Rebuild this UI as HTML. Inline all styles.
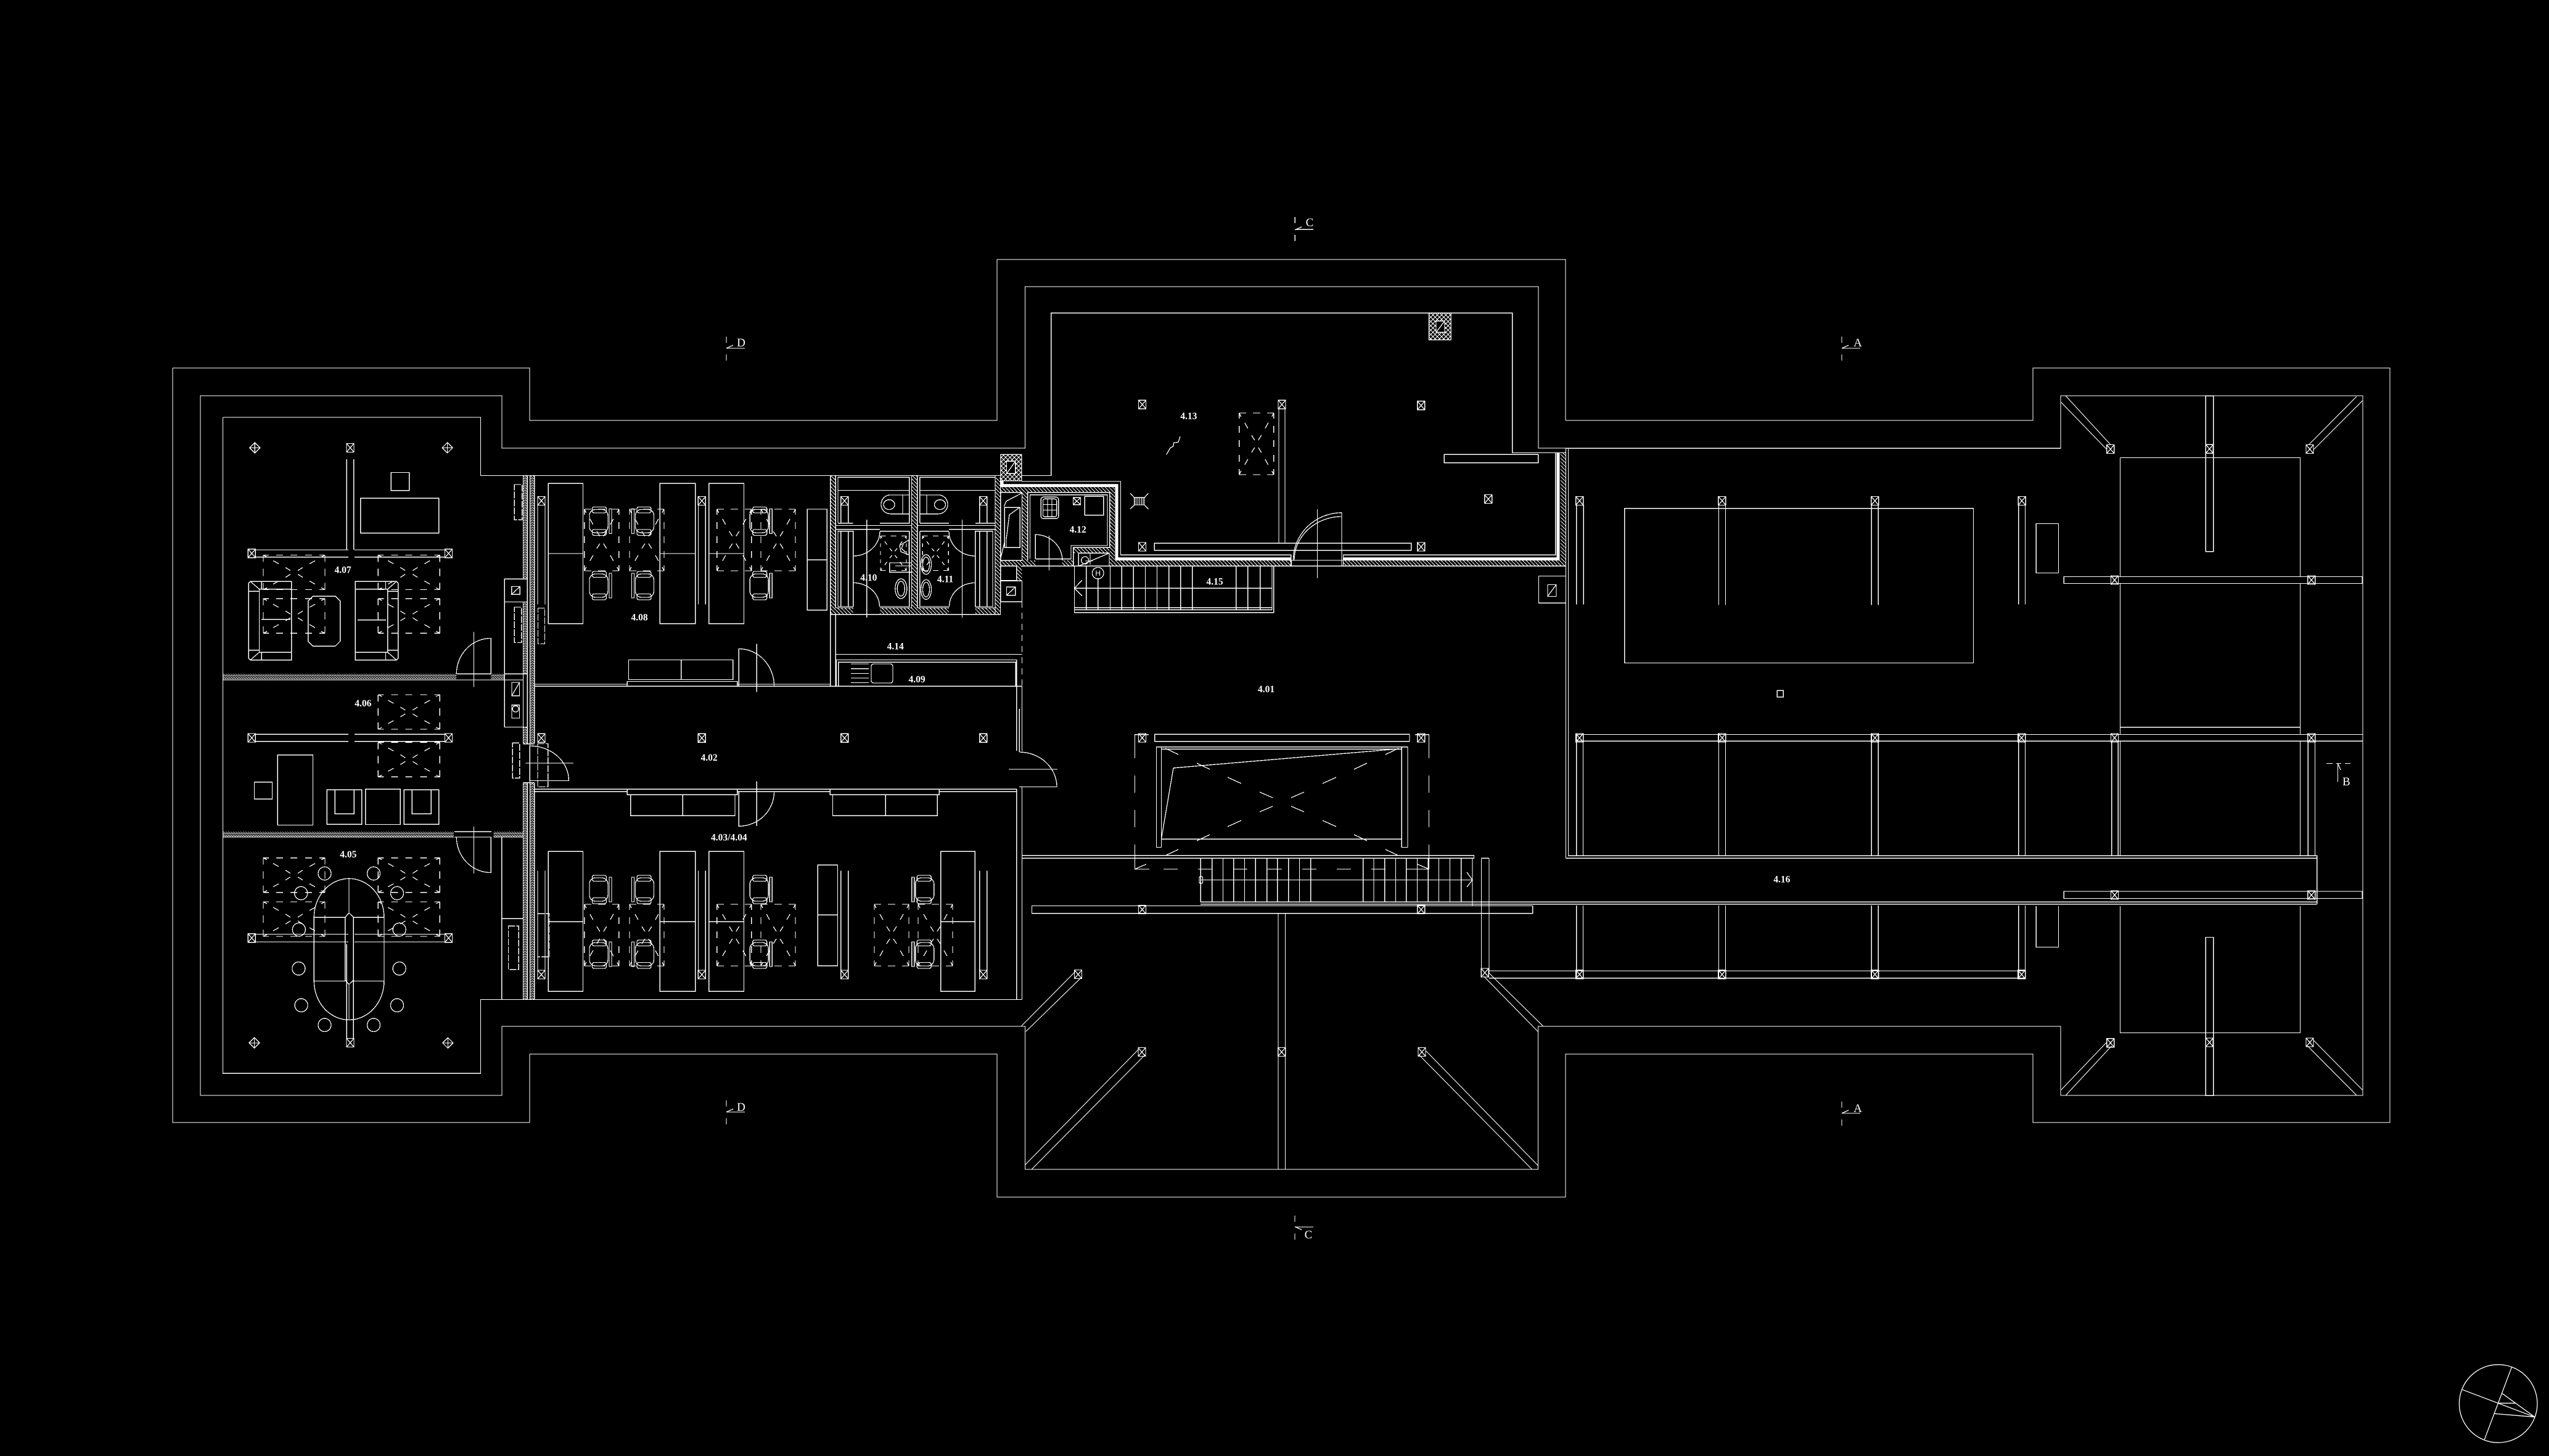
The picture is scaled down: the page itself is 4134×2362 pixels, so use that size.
<!DOCTYPE html>
<html><head><meta charset="utf-8"><style>
html,body{margin:0;padding:0;background:#000;width:4134px;height:2362px;overflow:hidden}
svg{display:block}
.s *{vector-effect:non-scaling-stroke}
text{font-family:"Liberation Serif",serif;font-weight:bold;font-size:15.5px;fill:#fff;stroke:none;text-anchor:middle}
.sec{font-weight:normal;font-size:19px}
</style></head><body>
<svg class="s" width="4134" height="2362" viewBox="0 0 4134 2362" xmlns="http://www.w3.org/2000/svg">
<defs>
<pattern id="n" width="4" height="4" patternUnits="userSpaceOnUse"><path d="M0 0h2v1H0zM2 1h1v1H2zM0 2h1v1H0zM2 3h2v1H2z" fill="#fff" stroke="none"/></pattern>
<pattern id="d" width="6" height="6" patternUnits="userSpaceOnUse"><path d="M0 0L6 6" stroke="#fff" stroke-width="1" fill="none" shape-rendering="crispEdges"/></pattern>
<pattern id="x" width="7" height="7" patternUnits="userSpaceOnUse"><path d="M0 0L7 7M7 0L0 7" stroke="#fff" stroke-width="1" fill="none" shape-rendering="crispEdges"/></pattern>
<g id="X"><rect x="-6" y="-7" width="12" height="14"/><path d="M-6 -7L6 7M6 -7L-6 7"/></g>
<g id="D"><path d="M0 -8.5L8.5 0L0 8.5L-8.5 0ZM0 -8.5V8.5M-8.5 0H8.5"/></g>
<g id="L"><path d="M-50 -28H-41M-29 -28H-18M-6 -28H5M18 -28H29M41 -28H50M-50 28H-41M-29 28H-18M-6 28H5M18 28H29M41 28H50M-50 -28V-17M-50 -6V6M-50 17V28M50 -28V-17M50 -6V6M50 17V28"/><path d="M-50 -28L-44 -25M-34 -19L-25 -14M-14 -8L-6 -3M50 -28L44 -25M34 -19L25 -14M14 -8L6 -3M-50 28L-44 25M-34 19L-25 14M-14 8L-6 3M50 28L44 25M34 19L25 14M14 8L6 3"/></g>
<use id="V" href="#L" transform="rotate(90)"/>
<g id="C"><rect x="-18" y="-19" width="30" height="38" rx="10"/><rect x="-13.5" y="-23" width="23" height="9.5" rx="3"/><rect x="-13.5" y="13.5" width="23" height="9.5" rx="3"/><rect x="14" y="-20" width="4" height="40"/></g>
<g id="B1"><rect x="0" y="0" width="56.4" height="56"/><rect x="13" y="0" width="31" height="39"/></g>
</defs>
<rect width="4134" height="2362" fill="#000"/>

<!-- patterned walls -->
<g fill="url(#n)" stroke="none">
<rect x="848.5" y="771.5" width="6.7" height="168"/><rect x="848.5" y="1179.5" width="6.7" height="27"/><rect x="848.5" y="1270" width="6.7" height="351.5"/>
<rect x="859.4" y="771.5" width="7.2" height="434.5"/><rect x="859.4" y="1270" width="7.2" height="351.5"/><rect x="848.5" y="976" width="6.7" height="117"/>
<rect x="361.5" y="1093.2" width="378.8" height="9.7"/><rect x="796.3" y="1093.2" width="22" height="9.7"/>
<rect x="361.5" y="1349.2" width="374.5" height="8.8"/><rect x="800.5" y="1349.2" width="48" height="8.8"/>
</g>
<g fill="url(#d)" stroke="none">
<rect x="1346.7" y="771.4" width="8.6" height="225.4"/><rect x="1346.7" y="986" width="37" height="10.8"/><rect x="1427" y="986" width="112" height="10.8"/><rect x="1581.8" y="986" width="41" height="10.8"/>
<rect x="1478.5" y="771.4" width="9.1" height="215"/><rect x="1614" y="775" width="9" height="222"/>
<rect x="1622.9" y="790.7" width="185" height="8"/><rect x="1657.5" y="798.7" width="9.3" height="119.6"/><rect x="1799.6" y="790.7" width="8.3" height="127.6"/>
<rect x="1622.9" y="909" width="56.4" height="9.3"/><rect x="1722.9" y="909" width="19" height="9.3"/><rect x="1799" y="909" width="295" height="9.3"/><rect x="2178.5" y="909" width="361" height="9.3"/>
<rect x="2531" y="734.5" width="8.4" height="183.8"/><rect x="1648.6" y="918.3" width="8.9" height="23.4"/><rect x="1740.7" y="889" width="58.3" height="8.3"/>
</g>
<g fill="url(#x)" stroke="#fff" stroke-width="1.3">
<rect x="1622.9" y="737.3" width="33.9" height="42.7"/><rect x="2317.5" y="507.6" width="35.7" height="43.8"/>
</g>
<g fill="#000" stroke="none"><rect x="1632.5" y="748.3" width="14.3" height="20"/><rect x="2329" y="520.6" width="14" height="18.6"/></g>

<g fill="none" stroke="#fff" stroke-width="1.3" shape-rendering="crispEdges">
<!-- envelope -->
<path d="M280 597H859V682H1617V421H2539V682M2539 682H3297V597H3876V1821H3297V1710H2539V1942H1617V1710H859V1821H280V597"/>
<path d="M325 642H814V727H1662.5V465H2495V727H3342V642H3832V1777H3342V1665H2494.5V1897H1662.5V1665H814V1777H325Z"/>
<path d="M361.5 677H779.5V771.5H1623M1657 771.5H1704.6V507.6H2452.7V734.5H2539.4M361.5 677V1741.3H779.5V1621.5H1657.4"/>

<!-- 4.07 -->
<g>
<use href="#D" x="413.3" y="726.4"/><use href="#D" x="725.6" y="726.4"/>
<use href="#X" x="568" y="726.4"/>
<path d="M562.3 745V892M573.6 745V892M414.6 892H565M575 892H721.4M414.6 903.6H565M575 903.6H721.4"/>
<use href="#X" x="408.3" y="897.8"/><use href="#X" x="727.5" y="897.8"/>
<rect x="634.3" y="766.4" width="29.4" height="29.3"/><rect x="584.6" y="808.2" width="127.1" height="56.4"/>
<use href="#L" x="477" y="928.6"/><use href="#L" x="477" y="999.2"/><use href="#L" x="663.3" y="928.6"/><use href="#L" x="663.3" y="999.2"/>
<path d="M406 943.2H472.6V1070.7H406L403.2 1068V946ZM420.5 955.7H472.6M420.5 1058.2H472.6M420.5 955.7V1058.2M403.2 959.3H420.5M403.2 1054.6H420.5M406 943.2L420.5 955.7M406 1070.7L420.5 1058.2M424.2 943.2V955.7M424.2 1058.2V1070.7M423.8 1004.6H471"/>
<path d="M576.2 943.2H643L645.6 946V1068L643 1070.7H576.2ZM576.2 955.7H628.8M576.2 1058.2H628.8M628.8 955.7V1058.2M628.8 959.3H645.6M628.8 1054.6H645.6M643 943.2L628.8 955.7M643 1070.7L628.8 1058.2M625.4 943.2V955.7M625.4 1058.2V1070.7M580 1005.7H625.8"/>
<path d="M507.6 967.1H543.8L551.8 975.1V1040.2L543.8 1048.2H507.6L499.6 1040.2V975.1Z"/>
<path d="M796.3 1093V1035.4A56 57.6 0 0 0 740.3 1093M768.5 1025V1114.6M740.3 1093.2H796.3M740.3 1102.9H796.3M361.5 1103H848.5"/>
</g>
<!-- service boxes -->
<path d="M855.2 939.3H818.2V1179.5H855.2ZM818.2 976.4H855.2M818.2 1093.2H855.2"/>
<rect x="829.6" y="951.4" width="13.8" height="12.9"/><path d="M829.6 964.3L843.4 951.4"/>
<rect x="830" y="1107" width="12.5" height="21.6"/><path d="M830 1128.6L842.5 1107"/>
<rect x="830" y="1143.6" width="12.5" height="21.4"/><circle cx="836.2" cy="1150" r="5"/>
<g stroke-dasharray="11 2"><rect x="834.2" y="786" width="12.6" height="57.2"/><rect x="834.2" y="985" width="11.6" height="57.5"/><rect x="831.2" y="1205.2" width="11.4" height="57.2"/><rect x="872.5" y="986.4" width="10.9" height="58"/><rect x="872" y="1206.4" width="16.7" height="70"/><rect x="872" y="1482.3" width="18.9" height="70"/><rect x="824.5" y="1502.3" width="16.8" height="70.3"/></g>
<path d="M848.5 771.5V939.3M855.2 771.5V939.3M859.4 771.5V1621.5M866.6 771.5V1206M866.6 1270V1621.5M848.5 976V1206.6M848.5 1269.7V1621.5M855.2 1179.5V1206.6M855.2 1269.7V1621.5M848.5 1206.6H866.6M848.5 1269.7H866.6"/>
<!-- 4.06 -->
<use href="#L" x="663.3" y="1155"/><use href="#L" x="663.3" y="1232.3"/>
<path d="M414.6 1191.1H565M575 1191.1H721.4M414.6 1202.8H565M575 1202.8H721.4"/>
<use href="#X" x="408.3" y="1197"/><use href="#X" x="727.5" y="1197"/>
<rect x="450.3" y="1224.6" width="57.3" height="113.9"/><rect x="412.5" y="1268.7" width="29" height="27.6"/>
<use href="#B1" x="530.3" y="1281.3"/><rect x="592.6" y="1280.3" width="56.8" height="57.2"/><use href="#B1" x="655.3" y="1281.3"/>
<path d="M361.5 1358H736M800.5 1358H848.5M737 1349.2H797M737 1358H797M796.3 1358V1415.6A56 57.6 0 0 1 740.3 1358M768.5 1341V1417"/>
<!-- 4.05 -->
<path d="M813.6 1358V1621.5M813.6 1490.2H848.5"/>
<use href="#L" x="477" y="1419.7"/><use href="#L" x="477" y="1491"/><use href="#L" x="663.3" y="1419.7"/><use href="#L" x="663.3" y="1491"/>
<path d="M414.6 1515.4H565M575 1515.4H721.4M414.6 1528H565M575 1528H721.4"/>
<use href="#X" x="408.3" y="1521.7"/><use href="#X" x="727.5" y="1521.7"/>
<path d="M509.3 1488A56.8 62.7 0 0 1 622.9 1488V1591.5A56.8 63 0 0 1 509.3 1591.5ZM509.3 1488.3H559.8M573.2 1488.3H622.9M509.3 1591.5H559.8M573.2 1591.5H622.9M566 1425.3V1481L559.8 1488V1590L566 1597L573.2 1590V1488L566 1481M566 1597V1655M562.3 1531.4V1685.5M573.2 1590V1685.5"/>
<use href="#X" x="568" y="1691.6"/><use href="#D" x="412.5" y="1691.9"/><use href="#D" x="726.4" y="1691.9"/>
<g><ellipse cx="526.5" cy="1417" rx="10.5" ry="10.7"/><ellipse cx="606" cy="1417" rx="10.5" ry="10.7"/><ellipse cx="488.2" cy="1449" rx="10.5" ry="10.7"/><ellipse cx="644" cy="1449" rx="10.5" ry="10.7"/><ellipse cx="484.8" cy="1508" rx="10.5" ry="10.7"/><ellipse cx="647.7" cy="1508" rx="10.5" ry="10.7"/><ellipse cx="484.4" cy="1571.2" rx="10.5" ry="10.7"/><ellipse cx="647.7" cy="1571.2" rx="10.5" ry="10.7"/><ellipse cx="488.6" cy="1630.8" rx="10.5" ry="10.7"/><ellipse cx="644" cy="1630.8" rx="10.5" ry="10.7"/><ellipse cx="526.5" cy="1662.8" rx="10.5" ry="10.7"/><ellipse cx="606" cy="1662.8" rx="10.5" ry="10.7"/></g>
<!-- entrance door 4.02 -->
<path d="M859.3 1210A63.2 56.4 0 0 1 922.5 1266.4H859.3V1210M852.3 1238H930"/>

<!-- 4.08 office -->
<g>
<rect x="889.3" y="784.3" width="56.2" height="227.5"/><rect x="1070.3" y="784.3" width="57.3" height="227.5"/><rect x="1149.6" y="784.3" width="56.8" height="227.5"/>
<path d="M889.3 897.9H945.5M1070.3 897.9H1127.6M1149.6 897.9H1206.4"/>
<rect x="1309.2" y="826" width="32.1" height="163.6"/><path d="M1309.2 908.2H1341.3"/>
<use href="#X" x="878" y="812.5"/><use href="#X" x="1138.3" y="812.5"/>
<path d="M872 819V980.7M884 819V980.7M1132.4 819V980.7M1144.2 819V980.7"/>
<use href="#V" x="975.8" y="875.9"/><use href="#V" x="1048.9" y="875.9"/><use href="#V" x="1190.8" y="875.9"/><use href="#V" x="1262.1" y="875.9"/>
<use href="#C" x="973.9" y="845.4"/><use href="#C" x="973.9" y="950"/>
<use href="#C" transform="translate(1042.5 845.4) scale(-1 1)"/><use href="#C" transform="translate(1042.5 950) scale(-1 1)"/>
<use href="#C" x="1234.2" y="845.4"/><use href="#C" x="1234.2" y="950"/>
<path d="M866.6 1110H1017.3M1195.7 1110H1346.7M866.6 1113.2H1657.4"/>
<rect x="1019.4" y="1070.4" width="169.3" height="32.1"/><path d="M1104.6 1070.4V1102.5"/><rect x="1017.3" y="1105.4" width="178.4" height="7.8"/>
<path d="M1198.3 1113V1052.5A57.3 60.5 0 0 1 1255.6 1113M1227.3 1044.3V1122.5"/>
</g>
<!-- toilets -->
<g>
<path d="M1346.7 771.4V1113M1355.3 996.8V1113M1346.7 996.8H1622.5V775M1355.3 771.4V986H1383.7M1427 986H1478.5V771.4M1487.6 771.4V986H1539M1581.8 986H1614V771.4"/>
<path d="M1359 848.6V774.3H1474.7V848.6H1427M1383.7 848.6H1359M1359 795.4H1474.7M1491.8 848.6V774.3H1614V848.6H1581.8M1539 848.6H1491.8M1491.8 795.4H1614"/>
<path d="M1355.3 852.5H1478.5M1355.3 858.6H1427M1487.6 852.5H1614M1539 858.6H1614M1359 861.8H1383.7V984H1359ZM1427 861.8H1474.7V928M1474.7 928V984H1426.5M1491.8 861.8H1539M1491.8 861.8V984H1539.5M1581.8 861.8H1610V984H1581.8Z"/>
<use href="#X" x="1369.7" y="812.5"/><use href="#X" x="1594.7" y="812.5"/>
<path d="M1363.7 819V848.6M1375.7 819V848.6M1588.7 819V848.6M1600.7 819V848.6M1363.7 862V984M1375.7 862V984M1588.7 862V984M1600.7 862V984"/>
<path d="M1474.7 802.9H1444A15 15.3 0 0 0 1444 833.6H1474.7ZM1464 802.9V833.6"/><ellipse cx="1442" cy="818.6" rx="9" ry="8"/>
<path d="M1491.8 802.9H1522A15 15.3 0 0 1 1522 833.6H1491.8ZM1503 802.9V833.6"/><ellipse cx="1524.5" cy="818.6" rx="9" ry="8"/>
<path d="M1383.7 861.8V902A43.3 40.2 0 0 0 1427 861.8M1383.7 984V945.4A42.8 38.6 0 0 1 1426.5 984M1581.8 861.8V902A42.8 40.2 0 0 1 1539 861.8M1581.8 984V945.4A42.3 38.6 0 0 0 1539.5 984M1405.6 843.2V1001.8M1560.4 843.2V1001.8"/>
<use href="#V" transform="translate(1449 897.5) scale(.75 .56)"/><use href="#V" transform="translate(1517.3 897.5) scale(.75 .56)"/>
<ellipse cx="1461.3" cy="955" rx="9.5" ry="16"/><ellipse cx="1461.3" cy="955" rx="6" ry="12"/><ellipse cx="1502" cy="915.7" rx="8.5" ry="16"/><ellipse cx="1502" cy="915.7" rx="5.5" ry="12"/><ellipse cx="1502" cy="956.4" rx="8.5" ry="16"/><ellipse cx="1502" cy="956.4" rx="5.5" ry="12"/>
<path d="M1442.6 912.9H1478.5M1442.6 912.9V928.2H1478.5M1452 918H1478M1474 876L1459 885L1461 895L1474 900ZM1465 883L1462 890L1469 896"/>
</g>
<!-- kitchen 4.09/4.14 -->
<path d="M1355.3 1061.4H1657.4M1356.3 1113V1070.4H1648.8V1113M1359.6 1113V1074.3H1647.2V1113"/>
<rect x="1413" y="1077" width="35" height="31" rx="4"/><path d="M1380 1077H1408.8M1380 1084.6H1408.8M1380 1092.5H1408.8M1380 1100H1408.8M1380 1107.5H1408.8"/>
<path d="M1657.4 976V1113" stroke-dasharray="10 8"/>
<path d="M1657.4 1113V1218M1653.3 1150V1220M1648.8 1113V1218M1648.8 1280V1621.5M1657.4 1281V1621.5"/>
<!-- corridor -->
<use href="#X" x="878" y="1197.3"/><use href="#X" x="1138.3" y="1197.3"/><use href="#X" x="1369.7" y="1197.3"/><use href="#X" x="1594.7" y="1197.3"/>
<path d="M1653 1220A61 56.5 0 0 1 1714 1276.5H1653M1636 1248H1715M1657.4 1281V1276.5"/>
<path d="M866.6 1280.3H1648.8M866.6 1284.3H1017.3M1195.7 1284.3H1346.2M1523.4 1284.3H1648.8"/>
<rect x="1017.3" y="1280.3" width="178.4" height="9"/><rect x="1022.6" y="1289.3" width="169.3" height="34"/><path d="M1107.3 1289.3V1323.3"/>
<rect x="1346.2" y="1280.3" width="177.2" height="9"/><rect x="1350.4" y="1289.3" width="169.8" height="34"/><path d="M1436.2 1289.3V1323.3"/>
<path d="M1198.3 1284V1340.3A57.3 56.3 0 0 0 1255.6 1284M1227.3 1267.3V1340"/>
<!-- 4.03/4.04 -->
<g>
<rect x="889.3" y="1381.3" width="56.2" height="227"/><rect x="1070.3" y="1381.3" width="57.3" height="227"/><rect x="1149.6" y="1381.3" width="56.8" height="227"/><rect x="1525.6" y="1381.3" width="55.7" height="227"/>
<path d="M889.3 1495.3H945.5M1070.3 1495.3H1127.6M1149.6 1495.3H1206.4M1525.6 1495.3H1581.3"/>
<rect x="1326.3" y="1403.3" width="32.2" height="163.4"/><path d="M1326.3 1484.3H1358.5"/>
<use href="#X" x="878" y="1581"/><use href="#X" x="1138.3" y="1581"/><use href="#X" x="1369.7" y="1581"/><use href="#X" x="1594.7" y="1581"/>
<path d="M872 1412.3V1574M884 1412.3V1574M1132.4 1412.3V1574M1144.2 1412.3V1574M1363.7 1412.3V1574M1375.7 1412.3V1574M1588.7 1412.3V1574M1600.7 1412.3V1574"/>
<use href="#V" x="975.8" y="1517"/><use href="#V" x="1048.9" y="1517"/><use href="#V" x="1190.8" y="1517"/><use href="#V" x="1262.1" y="1517"/><use href="#V" x="1446" y="1517"/><use href="#V" x="1517" y="1517"/>
<use href="#C" x="973.9" y="1443"/><use href="#C" x="973.9" y="1548"/>
<use href="#C" transform="translate(1042.5 1443) scale(-1 1)"/><use href="#C" transform="translate(1042.5 1548) scale(-1 1)"/>
<use href="#C" x="1234.2" y="1443"/><use href="#C" x="1234.2" y="1548"/>
<use href="#C" transform="translate(1496.7 1443) scale(-1 1)"/><use href="#C" transform="translate(1496.7 1548) scale(-1 1)"/>
</g>

<!-- 4.12 room -->
<path d="M1656.8 781H1817.5V900.3H2093.6V918M2178.5 918V900.3H2522.8V734.5"/>
<path d="M1666.8 909V798.7H1799.6V888.3H1740.7V918.3M1670.4 906.7V802.7H1796V885H1737V906.7H1679.3"/>
<path d="M1679.3 906.7V867.3A43.6 41.7 0 0 1 1722.9 909M1701.4 869V925.7"/>
<rect x="1688.2" y="806.3" width="28.6" height="35" rx="4"/><rect x="1691.4" y="809.3" width="22.2" height="29" rx="3"/><path d="M1691.4 818.5H1713.6M1691.4 827.5H1713.6M1699 809.3V838.3M1706 809.3V838.3"/>
<rect x="1740.4" y="807.3" width="12.1" height="11.4"/><path d="M1740.4 807.3L1752.5 818.7M1752.5 807.3L1740.4 818.7"/>
<rect x="1759.3" y="805.3" width="30.3" height="30.4"/>
<rect x="1622.9" y="798.7" width="34.6" height="110.6"/><rect x="1629.3" y="823.3" width="25" height="65"/>
<path d="M1657 800L1632 813L1629 820V880L1623 905M1654 823L1637 835L1632 875V888"/>
<path d="M1622.9 918.3H1648.6V941.7H1622.9ZM1622.9 942.3H1657.5V976.3H1622.9ZM1613.9 775V996.7H1346.7"/>
<rect x="1632.5" y="952.3" width="14.3" height="13.4"/><path d="M1632.5 965.7L1646.8 952.3"/>
<rect x="1632.5" y="748.3" width="14.3" height="20"/><path d="M1632.5 768.3L1646.8 748.3"/>
<rect x="2329" y="520.6" width="14" height="18.6"/><path d="M2329 539.2L2343 520.6"/>
<!-- stairs 4.15 -->
<rect x="1742.5" y="918.3" width="323.2" height="75.4"/><path d="M1742.5 985.7H2062.9M1742.5 989.3H2062.9M2062.9 918.3V989.3M1742.5 954.3H2062.9M1755 941L1742.5 954.3L1755 966.7"/>
<path d="M1761.8 918.3V989.3M1780.7 938V989.3M1800.4 918.3V989.3M1819.3 918.3V989.3M1838.2 918.3V989.3M1857.5 918.3V989.3M1876.4 918.3V989.3M1895.7 918.3V989.3M1914.6 918.3V989.3M1933.6 918.3V989.3M2004.6 918.3V989.3M2023.6 918.3V989.3M2043.6 918.3V989.3"/>
<circle cx="1780.7" cy="929.7" r="9.3"/>
<path d="M1749.3 918.3V897.3H1799V918.3M1749.3 918.3L1799 897.3"/><circle cx="1759.6" cy="909" r="6"/><path d="M1768 898V916M1760 910H1772"/>
<path d="M1839.6 807.3H1856V819H1839.6ZM1842.5 807.3V819M1845.5 807.3V819M1848.5 807.3V819M1851.5 807.3V819M1854 807.3V819M1839.6 807.3L1833 800M1856 807.3L1862.5 800M1839.6 819L1833 826M1856 819L1862.5 826"/>
<path d="M1913.9 708.3L1911 717.3L1903.6 718.3L1902.9 724L1897.9 726.7L1891.8 737.3"/>

<!-- 4.13 -->
<use href="#X" x="1852.6" y="656.2"/><use href="#X" x="2079" y="656.2"/><use href="#X" x="2304.7" y="657.8"/><use href="#X" x="2413.8" y="809.6"/><use href="#X" x="1852.6" y="887.1"/><use href="#X" x="2304.7" y="887.1"/><use href="#X" x="2561.7" y="812.4"/>
<path d="M2073.9 662V881.2M2084 662V881.2M2556.7 819V980.5M2568.1 819V980.5"/>
<use href="#V" x="2037.8" y="720"/>
<rect x="1872.3" y="881.2" width="416.5" height="11.5"/><rect x="2342.3" y="737.3" width="152.5" height="13.4"/>
<path d="M2175.9 918V831.8A78.5 77 0 0 0 2097.4 909M2175.9 838A77 71 0 0 0 2099 909M2136.4 825.9V937.8M2094.3 909V918M2094.3 909H2178.5"/>
<path d="M1657 918.3H2539.4"/>
<rect x="2495.4" y="934.5" width="44" height="43.6"/><rect x="2510" y="948.4" width="14" height="19"/><path d="M2510 967.4L2524 948.4"/>
<path d="M2539.4 727.4V1392.3M2543.4 728V1388.3M2539.4 727.4H3342"/>

<!-- 4.01 atrium -->
<rect x="1872.6" y="1191.3" width="413.3" height="11.3"/>
<use href="#X" x="1852.5" y="1197"/><use href="#X" x="2304.8" y="1197"/>
<path d="M1863 1191.8H1840.4V1230M1840.4 1258V1286M1840.4 1314V1342M1840.4 1370V1410H1864M1887 1410H1910M1943 1410H1966M2000 1410H2023M2056 1410H2079M2112 1410H2135M2168 1410H2191M2224 1410H2247M2280 1410H2317.5V1370M2317.5 1342V1314M2317.5 1286V1258M2317.5 1230V1191.8H2295"/>
<path d="M1890 1214L1911 1224M1941 1238L1962 1248M1991 1261L2013 1271M2043 1285L2064 1294M2268 1214L2247 1224M2217 1238L2196 1248M2167 1261L2145 1271M2115 1285L2094 1294M1890 1388L1911 1378M1941 1364L1962 1354M1991 1341L2013 1331M2043 1317L2064 1308M2268 1388L2247 1378M2217 1364L2196 1354M2167 1341L2145 1331M2115 1317L2094 1308M1840.4 1410L1859 1402M2317.5 1410L2299 1402"/>
<rect x="1875.5" y="1211.7" width="8" height="162.8"/><rect x="2273.3" y="1211.7" width="9.7" height="162.8"/>
<path d="M1883.5 1211.7H2273.3M1883.5 1215.3H2273.3M1883.5 1361.2H2273.3M1903 1245.9L2268.7 1214.8M1903 1245.9L1883.5 1360.7"/>
<path d="M1657.4 1387.8H2390.4V1392.3H1657.4M1947.2 1392.3V1463.3"/>
<path d="M1947.2 1463.3H3757.6M1947.2 1466.6H3757.6M1947.2 1427.5H2388M2379 1415L2388 1427.5L2379 1439M2388 1392.3V1469"/>
<path d="M1965.7 1392.3V1463.3M1983.4 1392.3V1463.3M2000.6 1392.3V1463.3M2018.4 1392.3V1463.3M2036.2 1392.3V1463.3M2054.6 1392.3V1463.3M2071.8 1392.3V1463.3M2089.6 1392.3V1463.3M2107.4 1392.3V1463.3M2125.7 1392.3V1463.3M2210.7 1392.3V1463.3M2227.9 1392.3V1463.3M2245.7 1392.3V1463.3M2263.5 1392.3V1463.3M2280.7 1392.3V1463.3M2298.5 1392.3V1463.3M2316.3 1392.3V1463.3M2333.5 1392.3V1463.3M2351.4 1392.3V1463.3M2369.7 1392.3V1463.3"/>
<rect x="1945" y="1422" width="5.5" height="11" rx="2"/>
<rect x="1673.4" y="1469.4" width="812.3" height="12.2"/><use href="#X" x="1852.5" y="1475.5"/><use href="#X" x="2304.8" y="1475.5"/>
<path d="M2072.9 1481.6V1897.4M2084.4 1481.6V1897.4M2402.4 1392.3V1578.6M2415 1392.3V1578.6M2402.4 1392.3H2415"/>
<use href="#X" x="2078.6" y="1706.6"/><use href="#X" x="2408.2" y="1578"/>
<use href="#X" x="1748.6" y="1580.6"/><use href="#X" x="1851.9" y="1706.6"/><use href="#X" x="2306" y="1706.6"/>
</g>
<!-- diagonals -->
<g fill="none" stroke="#fff" stroke-width="1.1">
<path d="M1744 1576L1656.7 1664.3M1753.2 1586.2L1663.6 1673.5M1846.8 1702L1662.5 1889.8M1857 1711.2L1672.8 1897.4M2312.9 1705L2494.3 1890.8M2301.4 1711.2L2485 1897.4M2415 1578.6L2502.3 1664.3M2406.4 1583.7L2494.3 1673.5"/>
<path d="M3350.4 642.4L3423.2 721.6M3342.9 652.7L3417 729.4M3821.9 643.3L3744.6 721.2M3831.3 650.2L3752.2 729.4M3342.9 1768L3417.4 1690M3350.4 1776.8L3424.6 1696.8M3751.8 1687.2L3831.3 1768M3742.4 1696.8L3821.9 1776.8"/>
</g>
<g fill="none" stroke="#fff" stroke-width="1.3" shape-rendering="crispEdges">
<!-- 4.16 -->
<rect x="2634.7" y="824.6" width="565.8" height="250.8"/>
<use href="#X" x="2792.9" y="812.5"/><use href="#X" x="3040.8" y="812.5"/><use href="#X" x="3279.1" y="812.5"/>
<path d="M2787.4 819V981.3M2798.4 819V981.3M3035.3 819V981.3M3046.3 819V981.3M3273.7 819V980.4M3284.4 819V980.4"/>
<rect x="2882.1" y="1120.2" width="10.2" height="10.4"/>
<path d="M2556.6 1191.4H3831.3M2556.6 1202.3H3831.3M2556.6 1191.4V1388.3M2567.4 1191.4V1388.3M2787.4 1191.4V1388.3M2798.4 1191.4V1388.3M3035.3 1191.4V1388.3M3046.3 1191.4V1388.3M3273.7 1191.4V1388.3M3284.4 1191.4V1388.3"/>
<use href="#X" x="2561.7" y="1197"/><use href="#X" x="2792.9" y="1197"/><use href="#X" x="3040.8" y="1197"/><use href="#X" x="3278.6" y="1197"/><use href="#X" x="3429.5" y="1197"/><use href="#X" x="3748.7" y="1197"/>
<path d="M2539.4 1392.3H3757.6V1466.6M2543.4 1388.3H3757.6V1392.3M2556.6 1469V1586.6M2567.4 1469V1586.6M2787.4 1469V1586.6M2798.4 1469V1586.6M3035.3 1469V1586.6M3046.3 1469V1586.6M3273.7 1469V1586.6M3284.4 1469V1586.6M2415 1575H3284.4M2415 1586.6H3284.4"/>
<use href="#X" x="2561.7" y="1580.7"/><use href="#X" x="2792.9" y="1580.7"/><use href="#X" x="3040.8" y="1580.7"/><use href="#X" x="3278.6" y="1580.7"/>
<!-- east wing -->
<rect x="3302.2" y="849.4" width="36.2" height="80"/>
<path d="M3302.2 1470V1536.5H3338.4V1470"/>
<path d="M3438.4 742.4H3730.4V935.5M3438.4 742.4V935.5M3438.4 946.5V1191.4M3730.4 946.5V1191.4M3438.4 1179.6H3730.4M3424.6 1202.4V1388.3M3435.3 1202.4V1388.3M3438.4 1202.4V1388.3M3730.4 1202.4V1388.3M3743.3 1202.4V1388.3M3754.5 1202.4V1388.3"/>
<path d="M3438.4 1470V1675.4H3730.4V1470"/>
<rect x="3347.3" y="935.5" width="484" height="11"/><use href="#X" x="3429.5" y="941"/><use href="#X" x="3748.7" y="941"/>
<rect x="3577.2" y="642.4" width="12.5" height="252.3"/><use href="#X" x="3583.4" y="728.2"/>
<use href="#X" x="3422.8" y="728.6"/><use href="#X" x="3746" y="728.6"/>
<rect x="3347.3" y="1446" width="484" height="11.4"/><use href="#X" x="3429.5" y="1452"/><use href="#X" x="3748.7" y="1452"/>
<rect x="3577.2" y="1520.5" width="12.5" height="256.7"/><use href="#X" x="3583.4" y="1691"/>
<use href="#X" x="3422.8" y="1691.8"/><use href="#X" x="3746" y="1691"/>
<!-- sections -->
<path d="M2100.3 352V362M2100.3 381V391M2100.3 372.3H2130M2100.3 373L2111 368"/>
<path d="M2100 1972V1982M2100 2001V2011M2100 1990.5H2130M2100 1990L2111 1995"/>
<path d="M1178 546V556M1178 575V585M1178 565H1208M1178 565L1189 560"/>
<path d="M1178 1785V1795M1178 1814V1824M1178 1804H1208M1178 1804L1189 1799"/>
<path d="M2987 546V556M2987 575V585M2987 565H3017M2987 565L2998 560"/>
<path d="M2987 1787V1797M2987 1816V1826M2987 1806H3017M2987 1806L2998 1801"/>
<path d="M3773 1238.5H3783M3789 1238.5H3797M3803 1238.5H3812M3791.5 1238.5V1268.4M3791.5 1238.5L3796 1249"/>
</g>
<!-- thick wall -->
<path d="M1625 780V787.7H1811V906.7H2093.6M2178.5 906.7H2527V734.5" fill="none" stroke="#fff" stroke-width="5"/>
<!-- compass -->
<g fill="none" stroke="#fff" stroke-width="1.3">
<circle cx="4051.7" cy="2277" r="63.3"/>
<path d="M4073.7 2217.3L4029.3 2335.3M3993.3 2254.3L4110.7 2298.7M4058.3 2260.7L4110.7 2298.7M4052.3 2276.3H4080M4045.7 2293.3L4110.7 2298.7"/>
</g>
<!-- labels -->
<g>
<text x="556" y="929.5">4.07</text>
<text x="588.8" y="1146">4.06</text>
<text x="564.8" y="1391">4.05</text>
<text x="1037" y="1006.5">4.08</text>
<text x="1150" y="1234">4.02</text>
<text x="1182.3" y="1363.5">4.03/4.04</text>
<text x="1408.8" y="942">4.10</text>
<text x="1533" y="944.5">4.11</text>
<text x="1452.2" y="1053.5">4.14</text>
<text x="1487" y="1107">4.09</text>
<text x="1748.2" y="864">4.12</text>
<text x="1970" y="948.5">4.15</text>
<text x="1927.8" y="680">4.13</text>
<text x="2053.5" y="1123">4.01</text>
<text x="2889.8" y="1431.5">4.16</text>
<text x="1780.7" y="934" style="font-size:12px;font-weight:normal;font-family:'Liberation Sans',sans-serif">H</text>
<text class="sec" x="2124" y="367">C</text>
<text class="sec" x="2122" y="2009">C</text>
<text class="sec" x="1202" y="562">D</text>
<text class="sec" x="1202" y="1802">D</text>
<text class="sec" x="3013" y="562">A</text>
<text class="sec" x="3013" y="1804">A</text>
<text class="sec" x="3805.4" y="1274">B</text>
</g>
</svg>
</body></html>
